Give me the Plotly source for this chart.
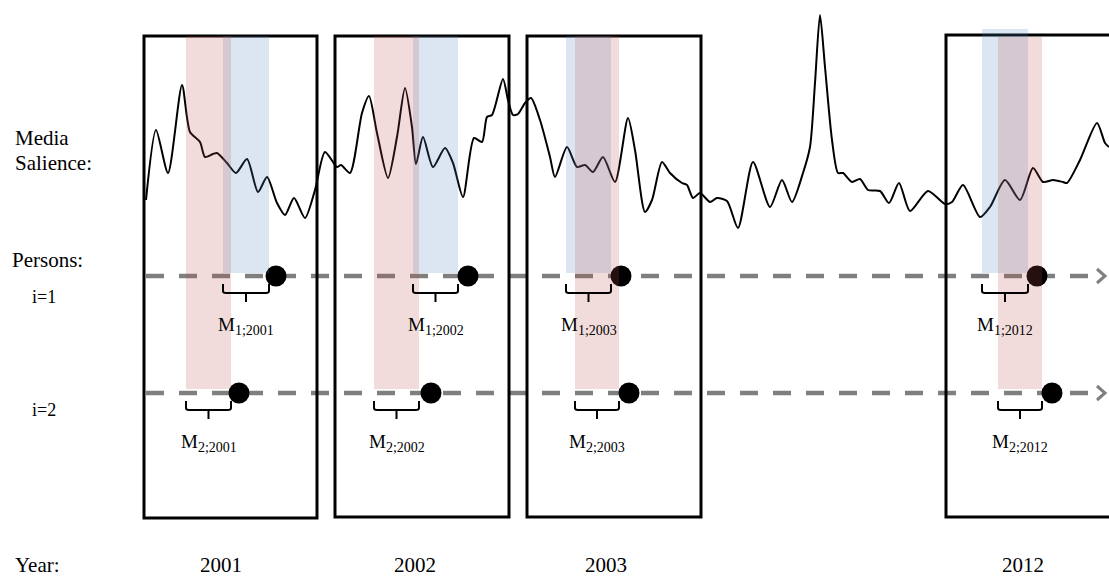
import plotly.graph_objects as go

W, H = 1109, 576
FONT = "Liberation Serif"

# ---- data (diagram units: x = horizontal position, y = vertical position, top-down) ----
years = ["2001", "2002", "2003", "2012"]
year_label_x = [221, 415, 606, 1023]
box_left = [144, 335, 527, 946]
box_right = [317, 509, 701, 1125]
box_top = [36, 36, 36, 35]
box_bottom = [518, 517, 517, 517]

# exposure windows (blue = person 1, red = person 2)
blue_start = [223, 413, 566, 982]
blue_end = [269, 458, 611, 1028]
blue_top = [36, 36, 36, 29]
red_start = [186, 374, 575, 998]
red_end = [231, 419, 619, 1042]
red_top = [36, 36, 36, 37]

# interview dates (dots)
dot_p1 = [276, 468, 621, 1037]
dot_p2 = [239, 431, 629, 1052]

person_labels = ["i=1", "i=2"]
person_y = [276, 393]

# media salience series
sal_t = [146, 156, 168, 182, 190, 200, 205, 213, 217, 227, 236, 247, 258, 267, 277, 285, 294, 305,
         315, 325, 337, 341, 350, 362, 369, 377, 388, 397, 405, 412, 416, 423, 433, 445, 453, 463,
         474, 482, 487, 492, 503, 508, 513, 518, 525, 531, 540, 550, 555, 567, 577, 585, 593, 603,
         615, 628, 635, 645, 652, 662, 670, 682, 687, 693, 700, 710, 717, 727, 738, 753, 770, 782,
         792, 803, 810, 815, 820, 825, 832, 838, 843, 852, 860, 868, 880, 889, 899, 910, 928, 945,
         952, 963, 980, 990, 1005, 1020, 1033, 1043, 1053, 1063, 1067, 1080, 1097, 1105, 1109]
sal_v = [200, 130, 173, 85, 132, 142, 157, 154, 153, 163, 173, 159, 192, 177, 203, 215, 198, 218,
         190, 152, 167, 165, 173, 113, 96, 133, 178, 137, 88, 127, 164, 137, 167, 148, 163, 197,
         138, 142, 117, 115, 79, 100, 115, 114, 103, 98, 120, 157, 177, 147, 167, 165, 172, 157,
         182, 118, 150, 212, 200, 162, 173, 183, 185, 198, 193, 202, 198, 201, 228, 162, 207, 180,
         202, 173, 147, 83, 15, 67, 140, 173, 173, 182, 179, 190, 191, 203, 183, 211, 191, 204,
         202, 185, 217, 207, 180, 200, 168, 182, 180, 182, 183, 160, 123, 143, 147]

line_start, line_end = 146, 1104

fig = go.Figure()

# salience line
fig.add_trace(go.Scatter(x=sal_t, y=sal_v, mode="lines",
                         line=dict(color="black", width=2, shape="spline", smoothing=0.7),
                         hoverinfo="skip"))

# dashed person lines + arrowheads
for py in person_y:
    fig.add_trace(go.Scatter(x=[line_start, line_end], y=[py, py], mode="lines",
                             line=dict(color="#7f7f7f", width=4.5, dash="18px,15px"),
                             hoverinfo="skip"))
    fig.add_trace(go.Scatter(x=[line_end - 7, line_end + 1, line_end - 7], y=[py - 7, py, py + 7],
                             mode="lines", line=dict(color="#7f7f7f", width=3),
                             hoverinfo="skip"))

# dots
fig.add_trace(go.Scatter(x=dot_p1, y=[person_y[0]] * len(dot_p1), mode="markers",
                         marker=dict(color="black", size=21), hoverinfo="skip"))
fig.add_trace(go.Scatter(x=dot_p2, y=[person_y[1]] * len(dot_p2), mode="markers",
                         marker=dict(color="black", size=21), hoverinfo="skip"))

shapes = []
for i in range(len(years)):
    shapes.append(dict(type="rect", xref="x", yref="y", x0=box_left[i], x1=box_right[i],
                       y0=box_top[i], y1=box_bottom[i], line=dict(color="black", width=3),
                       fillcolor="rgba(0,0,0,0)", layer="above"))
for i in range(len(years)):
    shapes.append(dict(type="rect", xref="x", yref="y", x0=blue_start[i], x1=blue_end[i],
                       y0=blue_top[i], y1=person_y[0] - 3, line=dict(width=0),
                       fillcolor="rgba(79,129,189,0.2)", layer="above"))
    shapes.append(dict(type="rect", xref="x", yref="y", x0=red_start[i], x1=red_end[i],
                       y0=red_top[i], y1=person_y[1] - 4, line=dict(width=0),
                       fillcolor="rgba(192,80,77,0.2)", layer="above"))


def brace(x0, x1, py):
    yt, yb, ytk = py + 8, py + 17, py + 26
    xm = (x0 + x1) / 2
    return (f"M {x0},{yt} L {x0},{yb - 2} Q {x0},{yb} {x0 + 3},{yb} L {x1 - 3},{yb} "
            f"Q {x1},{yb} {x1},{yb - 2} L {x1},{yt} M {xm},{yb} L {xm},{ytk}")


for i in range(len(years)):
    for (s, e, py) in [(blue_start[i], blue_end[i], person_y[0]), (red_start[i], red_end[i], person_y[1])]:
        shapes.append(dict(type="path", xref="x", yref="y", path=brace(s, e, py),
                           line=dict(color="black", width=2), layer="above"))

annotations = []


def txt(x, y, s, size=21, xanchor="left"):
    annotations.append(dict(x=x, y=y, xref="x", yref="y", text=s, showarrow=False,
                            xanchor=xanchor, yanchor="middle",
                            font=dict(family=FONT, size=size, color="black")))


txt(13, 138, "Media")
txt(13, 163, "Salience:")
txt(10, 260, "Persons:")
txt(30, 297, person_labels[0], size=18)
txt(30, 410, person_labels[1], size=18)
txt(13, 565, "Year:")
for i, y in enumerate(years):
    txt(year_label_x[i], 565, y, xanchor="center")
    for p, (s, e, py) in enumerate([(blue_start[i], blue_end[i], person_y[0]),
                                    (red_start[i], red_end[i], person_y[1])]):
        txt((s + e) / 2, py + 50,
            f"M<sub><span style='font-size:14px'>{p + 1};{y}</span></sub>", size=19, xanchor="center")

fig.update_layout(
    width=W, height=H, margin=dict(l=0, r=0, t=0, b=0),
    paper_bgcolor="white", plot_bgcolor="white", showlegend=False,
    xaxis=dict(range=[0, W], visible=False, fixedrange=True),
    yaxis=dict(range=[H, 0], visible=False, fixedrange=True),
    shapes=shapes, annotations=annotations,
)

fig.write_html("out.html", config={"displayModeBar": False, "staticPlot": True},
               post_script="document.body.style.margin='0';document.body.style.padding='0';"
                           "document.documentElement.style.overflow='hidden';")
